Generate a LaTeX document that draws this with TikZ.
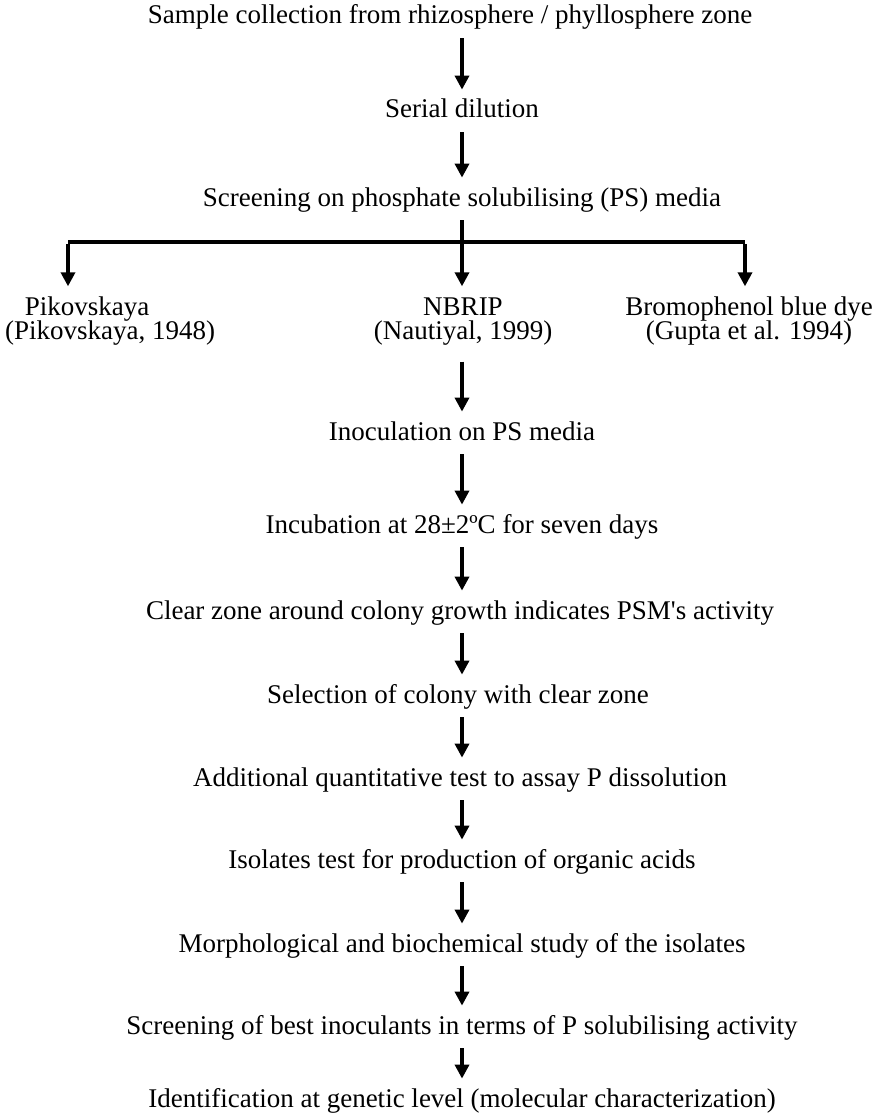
\documentclass[tikz,border=0pt]{standalone}
\usepackage{fontspec}
\setmainfont{Liberation Serif}
\usetikzlibrary{arrows.meta}

\newcommand\packlines{\lineskiplimit=-100pt\relax}
\newcommand\evenline{\vphantom{(Pky)}}

\tikzset{
  stage/.style={inner sep=3pt, text height=9pt, text depth=3pt,
    font=\fontsize{13.5}{16}\selectfont},
  medium/.style={inner sep=3pt, align=center,
    font=\fontsize{13.5}{12}\selectfont\packlines},
  flow/.style={line width=1.7pt, -{Triangle[width=7pt,length=7pt]},
    shorten <=1pt, shorten >=2pt},
  split/.style={line width=1.7pt}
}

\begin{document}
\begin{tikzpicture}[x=0.5pt,y=-0.5pt]
  \useasboundingbox (0,0) rectangle (879,1113);
  \coordinate (axis) at (462,0);

  % main steps
  \node[stage] (sample) at (450,18) {Sample collection from rhizosphere / phyllosphere zone};
  \node[stage] (serial) at (462,112) {Serial dilution};
  \node[stage] (screen) at (462,200) {Screening on phosphate solubilising (PS) media};

  % media
  \node[medium] (pik) at (110,321) {Pikovskaya\hspace*{23pt}\evenline\\(Pikovskaya, 1948)\evenline};
  \node[medium] (nbrip) at (463,321) {NBRIP\evenline\\(Nautiyal, 1999)\evenline};
  \node[medium] (bromo) at (749,321) {Bromophenol blue dye\evenline\\(Gupta et al. 1994)\evenline};

  \node[stage] (inoc) at (462,434) {Inoculation on PS media};
  \node[stage] (incub) at (462,527) {Incubation at 28±2ºC for seven days};
  \node[stage] (clear) at (460,613) {Clear zone around colony growth indicates PSM\textquotesingle s activity};
  \node[stage] (select) at (458,697) {Selection of colony with clear zone};
  \node[stage] (quant) at (460,780) {Additional quantitative test to assay P dissolution};
  \node[stage] (acids) at (462,862) {Isolates test for production of organic acids};
  \node[stage] (morph) at (462,946) {Morphological and biochemical study of the isolates};
  \node[stage] (best) at (462,1028) {Screening of best inoculants in terms of P solubilising activity};
  \node[stage] (ident) at (462,1101) {Identification at genetic level (molecular characterization)};

  % branch
  \coordinate (bl) at (68,242);
  \coordinate (br) at (745,242);
  \draw[split] (bl) -- (br);
  \draw[flow] (bl) -- (bl |- pik.north);
  \draw[flow] (br) -- (br |- bromo.north);
  \draw[flow] (screen.south -| axis) -- (nbrip.north -| axis);

  % arrows
  \draw[flow] (sample.south -| axis) -- (serial.north -| axis);
  \draw[flow] (serial.south -| axis) -- (screen.north -| axis);
  \draw[flow, shorten <=5pt] (nbrip.south -| axis) -- (inoc.north -| axis);
  \draw[flow] (inoc.south -| axis) -- (incub.north -| axis);
  \draw[flow] (incub.south -| axis) -- (clear.north -| axis);
  \draw[flow] (clear.south -| axis) -- (select.north -| axis);
  \draw[flow] (select.south -| axis) -- (quant.north -| axis);
  \draw[flow] (quant.south -| axis) -- (acids.north -| axis);
  \draw[flow] (acids.south -| axis) -- (morph.north -| axis);
  \draw[flow] (morph.south -| axis) -- (best.north -| axis);
  \draw[flow] (best.south -| axis) -- (ident.north -| axis);
\end{tikzpicture}
\end{document}
